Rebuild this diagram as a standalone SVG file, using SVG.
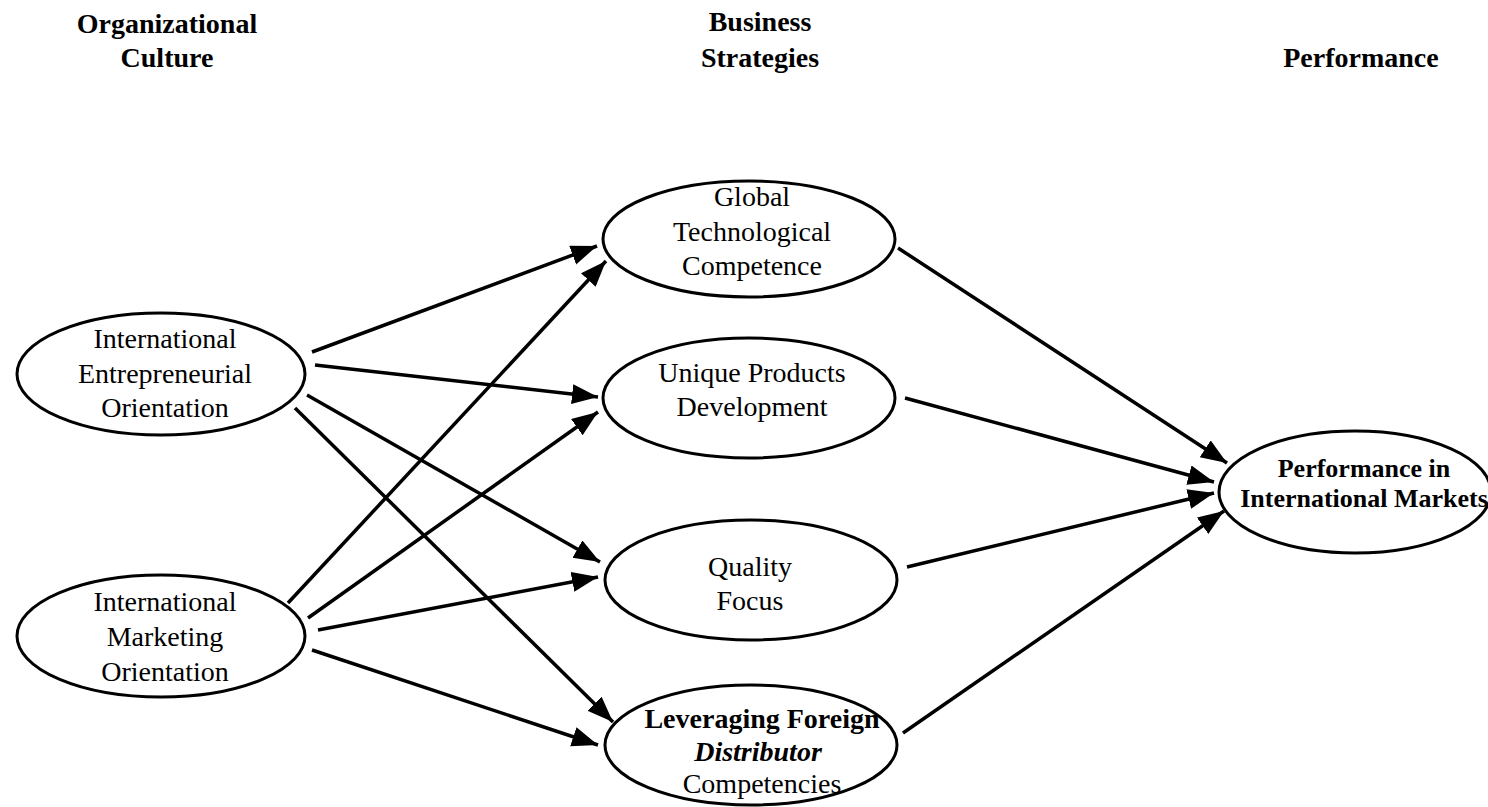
<svg xmlns="http://www.w3.org/2000/svg" width="1488" height="807" viewBox="0 0 1488 807">
<style>
text{font-family:"Liberation Serif","Times New Roman",serif;fill:#000;text-anchor:middle}
.h{font-weight:bold;font-size:28px}
.n{font-size:28px}
.b{font-weight:bold}
ellipse{fill:#fff;stroke:#000;stroke-width:3}
#connectors line{stroke:#000;stroke-width:3.5;marker-end:url(#ah)}
</style>
<defs>
<marker id="ah" markerUnits="userSpaceOnUse" markerWidth="28" markerHeight="22" refX="26" refY="10" orient="auto">
<path d="M0,0 L26,10 L0,20 Z" fill="#000"/>
</marker>
</defs>
<rect width="1488" height="807" fill="#fff"/>
<g id="headers">
<text class="h" x="167" y="33">Organizational</text>
<text class="h" x="167" y="67">Culture</text>
<text class="h" x="760" y="31">Business</text>
<text class="h" x="760" y="67">Strategies</text>
<text class="h" x="1361" y="67">Performance</text>
</g>
<g id="connectors">
<line x1="312" y1="352" x2="597" y2="246"/>
<line x1="288" y1="603" x2="606" y2="261"/>
<line x1="315" y1="365" x2="598" y2="397"/>
<line x1="308" y1="618" x2="598" y2="412"/>
<line x1="307" y1="395" x2="600" y2="562"/>
<line x1="318" y1="630" x2="598" y2="577"/>
<line x1="295" y1="408" x2="613" y2="722"/>
<line x1="312" y1="650" x2="598" y2="745"/>
<line x1="898" y1="248" x2="1227" y2="463"/>
<line x1="905" y1="398" x2="1214" y2="482"/>
<line x1="907" y1="567" x2="1214" y2="493"/>
<line x1="903" y1="733" x2="1224" y2="511"/>
</g>
<g id="ieo">
<ellipse cx="161" cy="374" rx="144" ry="61"/>
<text class="n" x="165" y="348">International</text>
<text class="n" x="165" y="383">Entrepreneurial</text>
<text class="n" x="165" y="417">Orientation</text>
</g>
<g id="imo">
<ellipse cx="161" cy="636" rx="144" ry="61"/>
<text class="n" x="165" y="611">International</text>
<text class="n" x="165" y="646">Marketing</text>
<text class="n" x="165" y="681">Orientation</text>
</g>
<g id="gtc">
<ellipse cx="749" cy="239" rx="146" ry="58"/>
<text class="n" x="752" y="206">Global</text>
<text class="n" x="752" y="241">Technological</text>
<text class="n" x="752" y="275">Competence</text>
</g>
<g id="upd">
<ellipse cx="749" cy="398" rx="146" ry="60"/>
<text class="n" x="752" y="382">Unique Products</text>
<text class="n" x="752" y="416">Development</text>
</g>
<g id="qf">
<ellipse cx="751" cy="580" rx="146" ry="60"/>
<text class="n" x="750" y="576">Quality</text>
<text class="n" x="750" y="610">Focus</text>
</g>
<g id="lfdc">
<ellipse cx="751" cy="745" rx="146" ry="60"/>
<text class="n b" x="762" y="728">Leveraging Foreign</text>
<text class="n b" x="758" y="761" font-style="italic">Distributor</text>
<text class="n" x="762" y="793">Competencies</text>
</g>
<g id="pim">
<ellipse cx="1355" cy="492" rx="136" ry="61"/>
<text class="b" font-size="26" x="1364" y="477">Performance in</text>
<text class="b" font-size="26" x="1364" y="507">International Markets</text>
</g>
</svg>
